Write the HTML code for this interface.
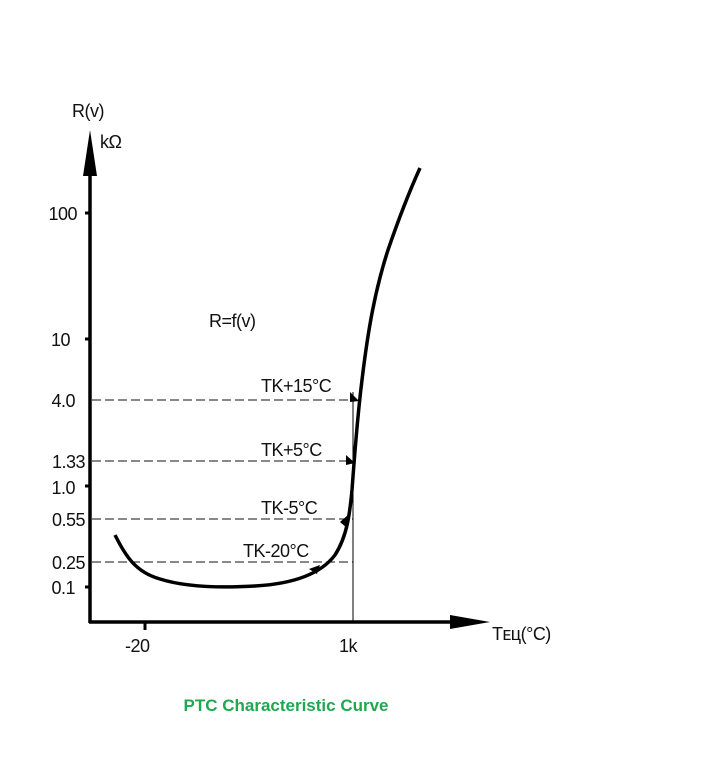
<!DOCTYPE html>
<html><head><style>
body{margin:0;background:#fff;}
svg text{font-family:"Liberation Sans",sans-serif;fill:#111;}
</style></head><body>
<svg width="705" height="776" viewBox="0 0 705 776" xmlns="http://www.w3.org/2000/svg">
<line x1="90" y1="623" x2="90" y2="170" stroke="#000" stroke-width="3.5"/>
<polygon points="90,130 83,176 97,176" fill="#000"/>
<line x1="89" y1="622" x2="455" y2="622" stroke="#000" stroke-width="3.5"/>
<polygon points="490,622 450,615 450,629" fill="#000"/>
<g stroke="#000" stroke-width="3">
<line x1="85" y1="213" x2="91" y2="213"/>
<line x1="85" y1="339" x2="91" y2="339"/>
<line x1="85" y1="486" x2="91" y2="486"/>
<line x1="85" y1="587" x2="91" y2="587"/>
<line x1="145" y1="621" x2="145" y2="630"/>
</g>
<g stroke="#111" stroke-width="1" stroke-dasharray="9,4">
<line x1="92" y1="400" x2="355" y2="400"/>
<line x1="92" y1="461" x2="355" y2="461"/>
<line x1="92" y1="519" x2="353" y2="519"/>
<line x1="92" y1="562" x2="353" y2="562"/>
</g>
<line x1="353" y1="392" x2="353" y2="622" stroke="#000" stroke-width="1"/>
<path d="M115,535 C125,555 135,572 160,579 C185,587 220,588 255,586 C290,584 320,575 335,555 C348,535 350,510 352,490 C355,450 357,420 362,380 C368,330 375,290 388,250 C400,215 410,190 420,168" fill="none" stroke="#000" stroke-width="3.5"/>
<g fill="#000">
<polygon points="320,565 309,569 317,574"/>
<polygon points="348,515 340,522 347,528"/>
<polygon points="355,463 346,455 346,465"/>
<polygon points="359,401 350,392 350,402"/>
</g>
<g font-size="18" letter-spacing="-0.5">
<text x="72" y="117">R(v)</text>
<text x="100" y="148">kΩ</text>
<text x="77" y="220" text-anchor="end">100</text>
<text x="70" y="346" text-anchor="end">10</text>
<text x="75" y="407" text-anchor="end">4.0</text>
<text x="85" y="468" text-anchor="end">1.33</text>
<text x="75" y="494" text-anchor="end">1.0</text>
<text x="85" y="526" text-anchor="end">0.55</text>
<text x="85" y="569" text-anchor="end">0.25</text>
<text x="75" y="594" text-anchor="end">0.1</text>
<text x="125" y="652">-20</text>
<text x="339" y="652">1k</text>
<text x="492" y="640">Tᴇц(°C)</text>
<text x="209" y="327">R=f(v)</text>
<text x="261" y="392">TK+15°C</text>
<text x="261" y="456">TK+5°C</text>
<text x="261" y="514">TK-5°C</text>
<text x="243" y="557">TK-20°C</text>
</g>
<text x="286" y="711" text-anchor="middle" font-size="17" font-weight="bold" style="fill:#1fa84f">PTC Characteristic Curve</text>
</svg>
</body></html>
